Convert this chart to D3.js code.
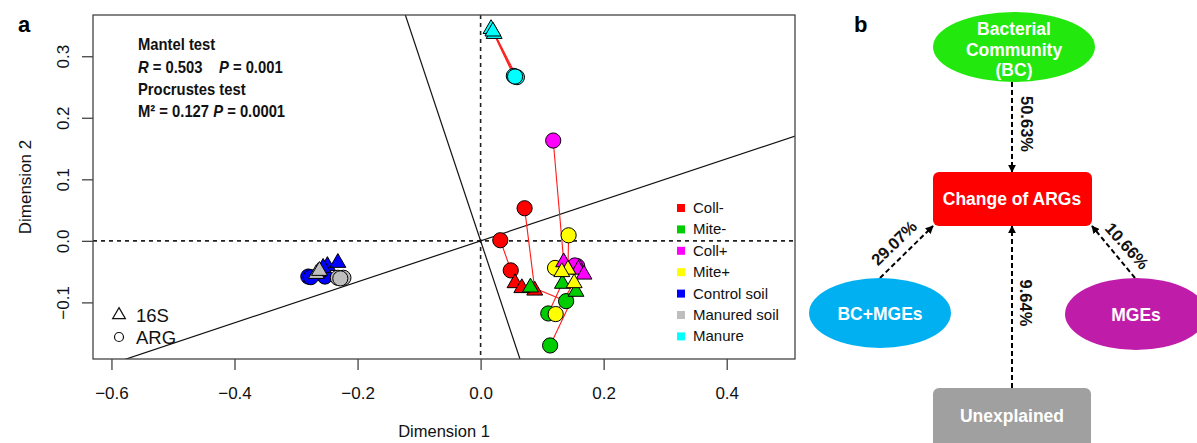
<!DOCTYPE html>
<html>
<head>
<meta charset="utf-8">
<script src="https://cdn.jsdelivr.net/npm/d3@7"></script>
<style>
  html, body { margin: 0; padding: 0; background: #fff; }
  svg { display: block; font-family: "Liberation Sans", Arial, sans-serif; }
</style>
</head>
<body>
<svg id="chart" width="1197" height="443"></svg>
<script>
// ---------------- DATA ----------------
const groupNames = ["Coll-", "Mite-", "Coll+", "Mite+", "Control soil", "Manured soil", "Manure"];
const groupColors = ["#ff0000", "#00cd00", "#ff00ff", "#ffff00", "#0000ff", "#bebebe", "#00ffff"];

// sample -> group index
const sampleGroup = [0,0,0, 1,1,1, 2,2,2, 3,3,3, 4,4,4, 5,5,5, 6,6,6];
// 16S configuration (triangles)
const tri16S_x = [0.088, 0.056, 0.067, 0.081, 0.155, 0.133, 0.135, 0.159, 0.168, 0.142, 0.132, 0.152, -0.249, -0.232, -0.256, -0.264, -0.267, -0.262, 0.017, 0.022, 0.020];
const tri16S_y = [-0.079, -0.067, -0.075, -0.074, -0.081, -0.068, -0.033, -0.045, -0.053, -0.045, -0.049, -0.067, -0.039, -0.034, -0.042, -0.049, -0.052, -0.047, 0.346, 0.338, 0.342];
// ARG configuration (circles)
const circARG_x = [0.0715, 0.032, 0.049, 0.139, 0.113, 0.110, 0.118, 0.157, 0.153, 0.143, 0.121, 0.122, -0.280, -0.253, -0.276, -0.232, -0.223, -0.228, 0.054, 0.059, 0.056];
const circARG_y = [0.053, 0.001, -0.048, -0.098, -0.170, -0.118, 0.163, -0.041, -0.040, 0.009, -0.044, -0.119, -0.058, -0.058, -0.059, -0.060, -0.060, -0.061, 0.268, 0.266, 0.267];

const xTicks = [-0.6, -0.4, -0.2, 0.0, 0.2, 0.4];
const yTicks = [-0.1, 0.0, 0.1, 0.2, 0.3];
const rotationSlope = 1 / 3;   // procrustes rotation axis (its perpendicular is drawn too)

const mantelR = "0.503", mantelP = "0.001", procM2 = "0.127", procP = "0.0001";

// panel b
const pathLabels = ["50.63%", "29.07%", "10.66%", "9.64%"];
const nodeLabels = ["Bacterial|Community|(BC)", "Change of ARGs", "BC+MGEs", "MGEs", "Unexplained"];

// ---------------- PANEL A ----------------
const svg = d3.select("#chart");
const L = 93, R = 795, T = 15, B = 359;
const x = d3.scaleLinear().domain([-0.630, 0.511]).range([L, R]);
const y = d3.scaleLinear().domain([-0.192, 0.367]).range([B, T]);

svg.append("defs").append("clipPath").attr("id", "clipA")
  .append("rect").attr("x", L).attr("y", T).attr("width", R - L).attr("height", B - T);

const plot = svg.append("g").attr("clip-path", "url(#clipA)");

// dashed zero lines
plot.append("line").attr("x1", x(0)).attr("x2", x(0)).attr("y1", T).attr("y2", B)
  .attr("stroke", "#222").attr("stroke-width", 1.6).attr("stroke-dasharray", "4,4");
plot.append("line").attr("x1", L).attr("x2", R).attr("y1", y(0)).attr("y2", y(0))
  .attr("stroke", "#222").attr("stroke-width", 1.6).attr("stroke-dasharray", "4,4");

// rotation axes
const ext = 2;
plot.append("line").attr("x1", x(-ext)).attr("y1", y(-ext * rotationSlope))
  .attr("x2", x(ext)).attr("y2", y(ext * rotationSlope))
  .attr("stroke", "#111").attr("stroke-width", 1.2);
plot.append("line").attr("x1", x(-ext * rotationSlope)).attr("y1", y(ext))
  .attr("x2", x(ext * rotationSlope)).attr("y2", y(-ext))
  .attr("stroke", "#111").attr("stroke-width", 1.2);

const idx = d3.range(sampleGroup.length);

// residual segments
plot.selectAll("line.res").data(idx).join("line").attr("class", "res")
  .attr("x1", i => x(tri16S_x[i])).attr("y1", i => y(tri16S_y[i]))
  .attr("x2", i => x(circARG_x[i])).attr("y2", i => y(circARG_y[i]))
  .attr("stroke", "#ff1a1a").attr("stroke-width", 1.1);

// circles (ARG)
plot.selectAll("circle.arg").data(idx).join("circle").attr("class", "arg")
  .attr("cx", i => x(circARG_x[i])).attr("cy", i => y(circARG_y[i]))
  .attr("r", 7.6)
  .attr("fill", i => groupColors[sampleGroup[i]])
  .attr("stroke", "#000").attr("stroke-width", 1);

// triangles (16S)
const triPath = d3.symbol().type(d3.symbolTriangle).size(110);
plot.selectAll("path.s16").data(idx).join("path").attr("class", "s16")
  .attr("d", triPath)
  .attr("transform", i => `translate(${x(tri16S_x[i])},${y(tri16S_y[i]) + 1})`)
  .attr("fill", i => groupColors[sampleGroup[i]])
  .attr("stroke", "#000").attr("stroke-width", 1).attr("stroke-linejoin", "miter");

// box
svg.append("rect").attr("x", L).attr("y", T).attr("width", R - L).attr("height", B - T)
  .attr("fill", "none").attr("stroke", "#444").attr("stroke-width", 1.3);

// axes
const xAxis = svg.append("g").attr("transform", `translate(0,${B})`)
  .call(d3.axisBottom(x).tickValues(xTicks).tickFormat(d3.format(".1f")).tickSize(11).tickPadding(17));
const yAxis = svg.append("g").attr("transform", `translate(${L},0)`)
  .call(d3.axisLeft(y).tickValues(yTicks).tickFormat(d3.format(".1f")).tickSize(11).tickPadding(0));
[xAxis, yAxis].forEach(a => {
  a.select(".domain").remove();
  a.selectAll(".tick line").attr("stroke", "#444").attr("stroke-width", 1.3);
  a.selectAll(".tick text").attr("font-size", 17).attr("fill", "#111")
    .attr("font-family", "'Liberation Sans', Arial, sans-serif");
});
yAxis.selectAll(".tick text")
  .attr("x", 0).attr("dy", 0)
  .attr("text-anchor", "middle")
  .attr("transform", "translate(-24,0) rotate(-90)");

// axis titles
svg.append("text").attr("x", (L + R) / 2).attr("y", 437).attr("text-anchor", "middle")
  .attr("font-size", 16.5).attr("fill", "#111").text("Dimension 1");
svg.append("text").attr("transform", `translate(31,${(T + B) / 2}) rotate(-90)`)
  .attr("text-anchor", "middle").attr("font-size", 17).attr("fill", "#111").text("Dimension 2");

// panel labels
svg.append("text").attr("x", 18).attr("y", 32).attr("font-size", 22).attr("font-weight", "bold").text("a");
svg.append("text").attr("x", 854).attr("y", 32).attr("font-size", 22).attr("font-weight", "bold").text("b");

// statistics text
const stats = svg.append("g").attr("transform", "translate(138,0) scale(0.87,1)")
  .attr("font-size", 17).attr("font-weight", "bold").attr("fill", "#111");
stats.append("text").attr("y", 50).text("Mantel test");
const t2 = stats.append("text").attr("y", 73);
t2.append("tspan").attr("font-style", "italic").text("R");
t2.append("tspan").text(" = " + mantelR + "\u00a0\u00a0\u00a0 ");
t2.append("tspan").attr("font-style", "italic").text("P");
t2.append("tspan").text(" = " + mantelP);
stats.append("text").attr("y", 95).text("Procrustes test");
const t4 = stats.append("text").attr("y", 117);
t4.append("tspan").text("M² = " + procM2 + " ");
t4.append("tspan").attr("font-style", "italic").text("P");
t4.append("tspan").text(" = " + procP);

// group legend
const leg = svg.append("g");
groupNames.forEach((g, i) => {
  const yy = 208 + i * 21.4;
  leg.append("rect").attr("x", 677).attr("y", yy - 4).attr("width", 8).attr("height", 8)
    .attr("fill", groupColors[i]);
  leg.append("text").attr("x", 693).attr("y", yy + 5).attr("font-size", 15).attr("fill", "#111").text(g);
});

// shape legend
svg.append("path").attr("d", d3.symbol().type(d3.symbolTriangle).size(70))
  .attr("transform", "translate(119,315)").attr("fill", "none").attr("stroke", "#111").attr("stroke-width", 1.2);
svg.append("circle").attr("cx", 119).attr("cy", 337).attr("r", 4.5)
  .attr("fill", "none").attr("stroke", "#111").attr("stroke-width", 1.2);
svg.append("text").attr("x", 136).attr("y", 322).attr("font-size", 18.5).attr("fill", "#111").text("16S");
svg.append("text").attr("x", 136).attr("y", 344).attr("font-size", 18.5).attr("fill", "#111").text("ARG");

// ---------------- PANEL B ----------------
const pb = svg.append("g");
const defs = svg.select("defs");
defs.append("marker").attr("id", "ah").attr("viewBox", "0 0 10 10").attr("refX", 9).attr("refY", 5)
  .attr("markerWidth", 4).attr("markerHeight", 4).attr("orient", "auto")
  .append("path").attr("d", "M0,0 L10,5 L0,10 Z").attr("fill", "#000");

const arrows = [
  { x1: 1012, y1: 82, x2: 1012, y2: 172 },
  { x1: 880, y1: 278, x2: 933, y2: 226 },
  { x1: 1135, y1: 278, x2: 1092, y2: 226 },
  { x1: 1012, y1: 388, x2: 1012, y2: 226 }
];
arrows.forEach(a => {
  pb.append("line").attr("x1", a.x1).attr("y1", a.y1).attr("x2", a.x2).attr("y2", a.y2)
    .attr("stroke", "#000").attr("stroke-width", 2).attr("stroke-dasharray", "5,3")
    .attr("marker-end", "url(#ah)");
});

// nodes
pb.append("ellipse").attr("cx", 1014).attr("cy", 47).attr("rx", 81).attr("ry", 35).attr("fill", "#22e80e");
pb.append("rect").attr("x", 933).attr("y", 172).attr("width", 159).attr("height", 54).attr("rx", 6).attr("fill", "#ff0000");
pb.append("ellipse").attr("cx", 880).attr("cy", 313).attr("rx", 71).attr("ry", 35).attr("fill", "#00b0f0");
pb.append("ellipse").attr("cx", 1136).attr("cy", 314).attr("rx", 71).attr("ry", 36).attr("fill", "#c01caa");
pb.append("rect").attr("x", 933).attr("y", 388).attr("width", 158).attr("height", 60).attr("rx", 6).attr("fill", "#a0a0a0");

const nodeText = (tx, ty, str, lh) => {
  const lines = str.split("|");
  const tt = pb.append("text").attr("text-anchor", "middle").attr("font-size", 17.5)
    .attr("font-weight", "bold").attr("fill", "#fff");
  lines.forEach((ln, k) => {
    tt.append("tspan").attr("x", tx).attr("y", ty + k * lh).text(ln);
  });
};
nodeText(1014, 35, nodeLabels[0], 20.5);
nodeText(1012, 205, nodeLabels[1], 0);
nodeText(880, 320, nodeLabels[2], 0);
nodeText(1136, 321, nodeLabels[3], 0);
nodeText(1012, 422, nodeLabels[4], 0);

// path labels
const lbl = (tx, ty, ang, s) => {
  pb.append("text").attr("transform", `translate(${tx},${ty}) rotate(${ang})`)
    .attr("text-anchor", "middle").attr("dy", "0.35em")
    .attr("font-size", 16.5).attr("font-weight", "bold").attr("fill", "#111").text(s);
};
lbl(1027, 124, 90, pathLabels[0]);
lbl(894, 243, -44, pathLabels[1]);
lbl(1127, 246, 48, pathLabels[2]);
lbl(1026, 303, 90, pathLabels[3]);
</script>
</body>
</html>
